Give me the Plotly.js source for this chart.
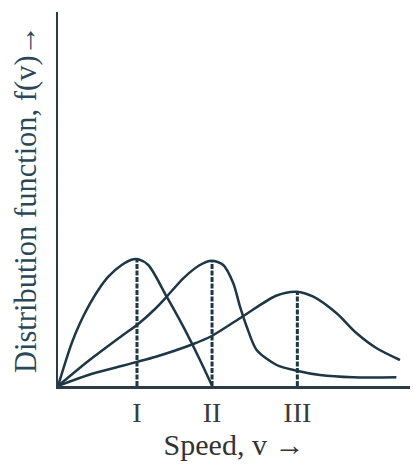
<!DOCTYPE html>
<html>
<head>
<meta charset="utf-8">
<script src="https://cdn.plot.ly/plotly-3.0.1.min.js"></script>
<style>html,body{margin:0;padding:0;background:#fff;}#chart{width:414px;height:467px;}</style>
</head>
<body>
<div id="chart"></div>
<script>
// Speed positions of the three peaks (tick positions)
const tickPositions = [1.0, 1.95, 3.03];
const tickLabels = ['I', 'II', 'III'];

// Curve I
const curve1X = [0, 0.089, 0.173, 0.278, 0.384, 0.510, 0.637, 0.806, 0.953, 1.016, 1.143, 1.376, 1.586, 1.797, 1.946];
const curve1Y = [0, 0.227, 0.427, 0.627, 0.793, 0.960, 1.093, 1.210, 1.267, 1.267, 1.210, 0.893, 0.593, 0.260, 0.010];

// Curve II
const curve2X = [0, 0.384, 0.806, 1.016, 1.228, 1.376, 1.586, 1.797, 1.946, 2.092, 2.219, 2.304, 2.389, 2.515, 2.768, 3.022, 3.316, 3.738, 4.284];
const curve2Y = [0, 0.250, 0.500, 0.620, 0.770, 0.893, 1.077, 1.210, 1.253, 1.210, 1.027, 0.793, 0.593, 0.360, 0.210, 0.153, 0.110, 0.087, 0.087];

// Curve III
const curve3X = [0, 0.384, 0.806, 1.016, 1.228, 1.713, 1.946, 2.346, 2.768, 3.022, 3.232, 3.527, 3.781, 4.034, 4.329];
const curve3Y = [0, 0.110, 0.200, 0.245, 0.290, 0.420, 0.500, 0.700, 0.905, 0.943, 0.893, 0.727, 0.527, 0.377, 0.260];

// Peak heights (dashed drop lines)
const peakX = [1.0, 1.95, 3.03];
const peakY = [1.267, 1.253, 0.943];

const lineColor = '#1e3746';
const serif = '"Liberation Serif", "Times New Roman", serif';
const traces = [];
[[curve1X, curve1Y], [curve2X, curve2Y], [curve3X, curve3Y]].forEach(([xs, ys]) => {
  traces.push({x: xs, y: ys, type: 'scatter', mode: 'lines',
    line: {color: lineColor, width: 2.5, shape: 'spline', smoothing: 0.8},
    hoverinfo: 'skip', showlegend: false});
});
peakX.forEach((px, i) => {
  traces.push({x: [px, px], y: [0, peakY[i]], type: 'scatter', mode: 'lines',
    line: {color: lineColor, width: 3, dash: '5px,1.5px'},
    hoverinfo: 'skip', showlegend: false});
});

const layout = {
  width: 414, height: 467,
  margin: {l: 58, r: 4, t: 12, b: 81},
  paper_bgcolor: '#ffffff', plot_bgcolor: '#ffffff',
  showlegend: false,
  xaxis: {
    range: [0, 4.456], showgrid: false, zeroline: false,
    showline: true, linecolor: '#2a3c48', linewidth: 2.5,
    tickvals: tickPositions, ticktext: tickLabels, ticks: '',
    tickfont: {family: serif, size: 28, color: '#3a3a3a'},
    title: {text: 'Speed, v →', font: {family: serif, size: 30, color: '#333333'}, standoff: 6},
    fixedrange: true
  },
  yaxis: {
    range: [0, 3.74], showgrid: false, zeroline: false,
    showline: true, linecolor: '#2a3c48', linewidth: 2.5,
    showticklabels: false, ticks: '',
    title: {text: 'Distribution function, f(v)→', font: {family: serif, size: 30.5, color: '#2c4858'}, standoff: 10},
    fixedrange: true
  }
};

Plotly.newPlot('chart', traces, layout, {displayModeBar: false, staticPlot: true});
</script>
</body>
</html>
